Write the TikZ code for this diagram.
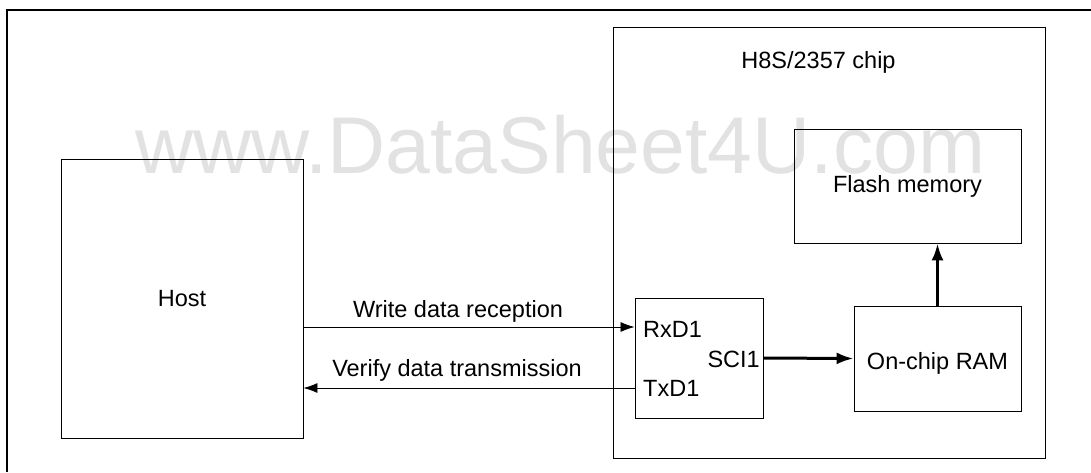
\documentclass[tikz,border=0pt]{standalone}
\usepackage{fontspec}
\setmainfont{Liberation Sans}
\usetikzlibrary{arrows.meta, positioning}
\definecolor{MarkGray}{RGB}{226,226,226}

\begin{document}
\begin{tikzpicture}[x=1pt, y=-1pt,
  block/.style={draw, line width=0.9pt, inner sep=0pt},
  txt/.style={inner sep=0pt, anchor=base, font=\fontsize{23.5}{28}\selectfont},
  arr/.style={-{Latex[length=14pt, width=10pt]}, line width=0.8pt},
  bus/.style={-{Latex[length=17pt, width=12pt]}, line width=3pt},
]
\useasboundingbox (0,0) rectangle (1091,472);
% watermark
\node[inner sep=0pt, anchor=base west, text=MarkGray,
      font=\fontsize{80.5}{90}\selectfont] (mark) at (135,173) {www.DataSheet4U.com};
% outer frame
\draw[line width=1.2pt] (7,472) -- (7,10) -- (1091,10);

% boxes
\node[block, minimum width=242pt, minimum height=279pt] (host)  at (182,298.5) {};
\node[block, minimum width=432pt, minimum height=431pt] (chip)  at (829,242.5) {};
\node[block, minimum width=227pt, minimum height=114pt] (flash) at (907.5,186) {};
\node[block, minimum width=167pt, minimum height=105pt] (ram)   at (937.5,358.5) {};
\node[block, minimum width=128pt, minimum height=120pt] (sci)   at (699,358) {};

% labels
\node[txt] (hostlbl)  at (182,306)   {Host};
\node[txt] (chiplbl)  at (818.5,68)  {H8S/2357 chip};
\node[txt] (flashlbl) at (907.5,192) {Flash memory};
\node[txt] (ramlbl)   at (937.5,369) {On-chip RAM};
\node[txt, anchor=base west] (rx)  at (643,337) {RxD1};
\node[txt, anchor=base west] (tx)  at (643,396) {TxD1};
\node[txt, anchor=base east] (sci1) at (760,367) {SCI1};
\node[txt] (wrlbl) at (458,317) {Write data reception};
\node[txt] (vflbl) at (457,376) {Verify data transmission};

% connectors
\coordinate (wr) at (0,327);
\coordinate (vf) at (0,388);
\draw[arr] (host.east |- wr) -- (sci.west |- wr);
\draw[arr] (sci.west |- vf) -- (host.east |- vf);
\draw[bus] (sci.east) -- (ram.west);
\draw[bus] (ram.north) -- (ram.north |- flash.south);
\end{tikzpicture}
\end{document}
